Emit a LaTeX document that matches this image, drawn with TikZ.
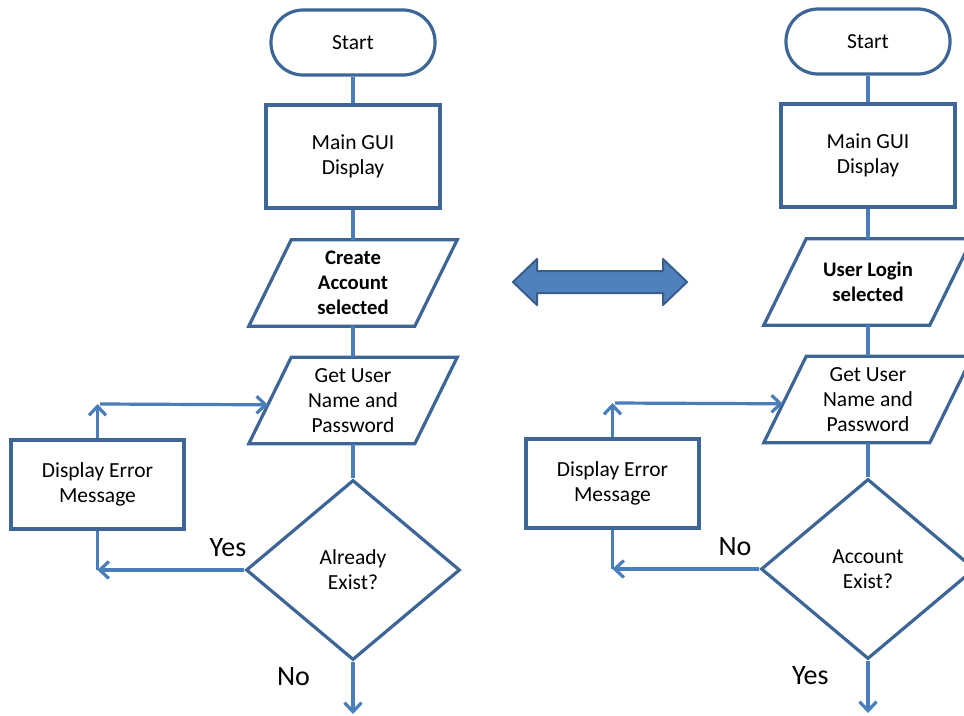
\documentclass[tikz,border=0pt]{standalone}
\usepackage{fontspec}
\setmainfont{Carlito}
\usetikzlibrary{shapes.geometric,arrows.meta,calc}

\definecolor{edgeblue}{HTML}{3D6696}
\definecolor{linkblue}{HTML}{4A7EBB}
\definecolor{fillblue}{HTML}{4F81BD}
\definecolor{darkblue}{HTML}{385D8A}

\tikzset{
  outline/.style={draw=edgeblue, line width=3.2pt},
  boxtext/.style={font=\fontsize{21.5}{25}\selectfont, align=center, text=black},
  terminal/.style={outline, boxtext, rectangle, rounded corners=32pt,
    minimum width=164pt, minimum height=65pt},
  procbox/.style={outline, boxtext, rectangle, minimum width=174pt, minimum height=103pt},
  errbox/.style={outline, boxtext, rectangle, minimum width=173pt, minimum height=89pt},
  iobox/.style={boxtext, rectangle, inner sep=0pt, minimum width=208pt, minimum height=86pt},
  decision/.style={outline, boxtext, diamond, inner sep=0pt,
    minimum width=214pt, minimum height=180pt},
  link/.style={draw=linkblue, line width=3.2pt},
  flow/.style={link, -{Straight Barb[length=9pt,width=17pt]}},
  answer/.style={font=\fontsize{28}{32}\selectfont},
}

% one flowchart column
% #1 prefix, #2 scope options, #3 selection text, #4 question,
% #5 side answer, #6 side answer x, #7 bottom answer
\newcommand\flowcolumn[7]{%
\begin{scope}[#2]
  \node[terminal] (#1-start) at (353,42.5) {Start};
  \node[procbox] (#1-gui) at (353,156.5) {Main GUI\\Display};
  \node[iobox, font=\fontsize{20.7}{25}\selectfont\bfseries] (#1-sel) at (353,283) {#3};
  \node[iobox] (#1-get) at (353,400.5) {Get User\\Name and\\Password};
  \node[decision] (#1-dec) at (353,570) {#4};
  \node[errbox] (#1-err) at (97.5,484.5) {Display Error\\Message};
  % parallelogram outlines around the input nodes
  \draw[outline] (#1-sel.south west) -- ++(166,0) -- (#1-sel.north east)
    -- ++(-166,0) -- cycle;
  \draw[outline] (#1-get.south west) -- ++(166,0) -- (#1-get.north east)
    -- ++(-166,0) coordinate (#1-gettl) -- cycle;
  % named points for the loop and the exit
  \coordinate (#1-corner) at (#1-err.south |- #1-dec.west);
  \coordinate (#1-up) at (97.5,404);
  \coordinate (#1-in) at ($(#1-get.south west)!0.45!(#1-gettl)$);
  \coordinate (#1-exit) at (353,714);
  % main line
  \draw[link] (#1-start) -- (#1-gui);
  \draw[link] (#1-gui) -- (#1-sel.north);
  \draw[link] (#1-sel.south) -- (#1-get.north);
  \draw[link] (#1-get.south) -- (#1-dec.north);
  \draw[flow] (#1-dec.south) -- (#1-exit);
  % error loop
  \draw[flow] (#1-dec.west) -- (#1-corner);
  \draw[link] (#1-err.south) -- (#1-corner);
  \draw[flow] (#1-err.north) -- (#1-up);
  \draw[flow] ([xshift=2.5pt]#1-up) -- (#1-in);
  % answers
  \node[answer] (#1-side) at (#6,548) {#5};
  \node[answer, anchor=west] (#1-bottom) at (273.5,677) {#7};
\end{scope}}

\begin{document}
\begin{tikzpicture}[x=1pt, y=-1pt]
  \path[use as bounding box, clip] (0,0) rectangle (964,715);
  \fill[white] (0,0) rectangle (964,715);

  \flowcolumn{L}{}{Create\\Account\\selected}{Already\\Exist?}{Yes}{228}{No}
  \flowcolumn{R}{xshift=515pt, yshift=1pt}{User Login\\selected}{Account\\Exist?}{No}{220}{Yes}

  % two-way arrow between the columns
  \draw[fill=fillblue, draw=darkblue, line width=2pt, line join=round]
    (513,282) -- (537,259) -- (537,271) -- (663,271) -- (663,259) -- (687,282)
    -- (663,305) -- (663,293) -- (537,293) -- (537,305) -- cycle;
\end{tikzpicture}
\end{document}
